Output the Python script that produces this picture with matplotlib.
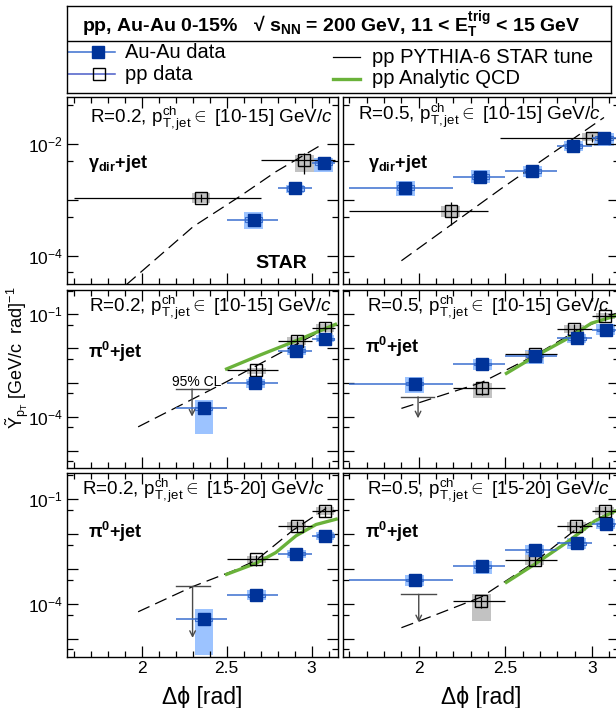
import numpy as np
import matplotlib
matplotlib.use("Agg")
import matplotlib.pyplot as plt
from matplotlib.patches import Rectangle
from matplotlib.lines import Line2D
from matplotlib.ticker import FixedLocator, FuncFormatter

plt.rcParams['font.family'] = ['Liberation Sans', 'DejaVu Sans']
plt.rcParams['mathtext.fontset'] = 'custom'
plt.rcParams['mathtext.rm'] = 'Liberation Sans'
plt.rcParams['mathtext.it'] = 'Liberation Sans:italic'
plt.rcParams['mathtext.bf'] = 'Liberation Sans:bold'
plt.rcParams['axes.linewidth'] = 1.0

# ---------------- data ----------------
# gamma_dir+jet, R=0.2, pT,jet 10-15
tl_aa_x = [2.659, 2.903, 3.07]
tl_aa_y = [4.4e-4, 1.6e-3, 4.6e-3]
tl_aa_xlo = [2.504, 2.80, 3.0]
tl_aa_xhi = [2.80, 3.0, 3.14]
tl_aa_slo = [3.0e-4, 1.32e-3, 3.2e-3]
tl_aa_shi = [6.0e-4, 1.87e-3, 5.7e-3]
tl_pp_x = [2.35, 2.958]
tl_pp_y = [1.1e-3, 5.1e-3]
tl_pp_xlo = [1.6, 2.7]
tl_pp_xhi = [2.7, 3.14]
tl_pp_elo = [9.0e-4, 2.95e-3]
tl_pp_ehi = [1.3e-3, 6.8e-3]
tl_pp_slo = [8.7e-4, 3.2e-3]
tl_pp_shi = [1.35e-3, 6.3e-3]
tl_py_x = [1.91, 2.303, 2.577, 2.79, 3.042]
tl_py_y = [3.0e-5, 3.3e-4, 1.15e-3, 3.2e-3, 9.1e-3]

# gamma_dir+jet, R=0.5, pT,jet 10-15
tr_aa_x = [1.923, 2.356, 2.656, 2.893, 3.069]
tr_aa_y = [1.66e-3, 2.6e-3, 3.3e-3, 9.3e-3, 1.28e-2]
tr_aa_xlo = [1.6, 2.2, 2.5, 2.8, 3.0]
tr_aa_xhi = [2.2, 2.5, 2.8, 3.0, 3.14]
tr_aa_slo = [1.18e-3, 2.04e-3, 2.6e-3, 7.4e-3, 9.3e-3]
tr_aa_shi = [2.2e-3, 3.4e-3, 4.1e-3, 1.14e-2, 1.58e-2]
tr_pp_x = [2.185, 2.997]
tr_pp_y = [6.4e-4, 1.28e-2]
tr_pp_xlo = [1.6, 2.467]
tr_pp_xhi = [2.4, 3.14]
tr_pp_elo = [3.6e-4, 1.1e-2]
tr_pp_ehi = [9.1e-4, 1.5e-2]
tr_pp_slo = [5.0e-4, 1.15e-2]
tr_pp_shi = [7.9e-4, 1.6e-2]
tr_py_x = [1.90, 2.477, 3.069]
tr_py_y = [8.1e-5, 1.6e-3, 3.0e-2]

# pi0+jet, R=0.2, pT,jet 10-15
ml_aa_x = [2.367, 2.668, 2.909, 3.079]
ml_aa_y = [1.75e-4, 9.9e-4, 8.6e-3, 1.89e-2]
ml_aa_xlo = [2.2, 2.5, 2.8, 3.0]
ml_aa_xhi = [2.5, 2.8, 3.0, 3.14]
ml_aa_slo = [3.1e-5, 7.1e-4, 6.5e-3, 1.5e-2]
ml_aa_shi = [3.1e-4, 1.3e-3, 1.17e-2, 2.45e-2]
ml_pp_x = [2.674, 2.913, 3.079]
ml_pp_y = [2.3e-3, 1.68e-2, 4.1e-2]
ml_pp_xlo = [2.5, 2.8, 3.0]
ml_pp_xhi = [2.8, 3.0, 3.14]
ml_pp_elo = [1.5e-3, 1.1e-2, 3.0e-2]
ml_pp_ehi = [3.2e-3, 2.5e-2, 5.9e-2]
ml_pp_slo = [1.74e-3, 1.26e-2, 3.1e-2]
ml_pp_shi = [2.7e-3, 2.2e-2, 5.1e-2]
ml_ul = [2.297, 2.2, 2.395, 6.5e-4, 1.0e-4]   # x, xlo, xhi, limit, arrow tip
ml_py_x = [1.98, 2.499, 3.085]
ml_py_y = [5.0e-5, 1.05e-3, 3.9e-2]
ml_qcd_x = [2.5, 2.7, 2.9, 3.14]
ml_qcd_y = [2.5e-3, 6.5e-3, 1.62e-2, 5.1e-2]

# pi0+jet, R=0.5, pT,jet 10-15
mr_aa_x = [1.977, 2.367, 2.669, 2.913, 3.079]
mr_aa_y = [9.2e-4, 3.5e-3, 6.0e-3, 2.0e-2, 3.5e-2]
mr_aa_xlo = [1.6, 2.2, 2.5, 2.8, 3.0]
mr_aa_xhi = [2.2, 2.5, 2.8, 3.0, 3.14]
mr_aa_slo = [4.8e-4, 2.3e-3, 3.6e-3, 1.4e-2, 2.5e-2]
mr_aa_shi = [1.48e-3, 4.9e-3, 8.9e-3, 2.6e-2, 5.1e-2]
mr_pp_x = [2.367, 2.669, 2.896, 3.077]
mr_pp_y = [6.7e-4, 6.8e-3, 3.7e-2, 8.9e-2]
mr_pp_xlo = [2.2, 2.5, 2.8, 3.0]
mr_pp_xhi = [2.5, 2.8, 3.0, 3.14]
mr_pp_elo = [4.3e-4, 4.6e-3, 2.6e-2, 6.3e-2]
mr_pp_ehi = [1.05e-3, 8.9e-3, 5.1e-2, 0.12]
mr_pp_slo = [3.5e-4, 4.9e-3, 2.8e-2, 7.1e-2]
mr_pp_shi = [1.0e-3, 8.3e-3, 4.9e-2, 0.107]
mr_ul = [1.996, 1.90, 2.09, 3.8e-4, 8.9e-5]
mr_py_x = [1.90, 2.362, 2.669, 2.90, 3.137]
mr_py_y = [1.74e-4, 1.0e-3, 6.2e-3, 3.1e-2, 0.107]
mr_qcd_x = [2.506, 2.669, 2.862, 2.996, 3.137]
mr_qcd_y = [1.86e-3, 5.8e-3, 2.0e-2, 5.5e-2, 9.1e-2]

# pi0+jet, R=0.2, pT,jet 15-20
bl_aa_x = [2.367, 2.674, 2.909, 3.079]
bl_aa_y = [3.7e-5, 1.8e-4, 2.8e-3, 9.1e-3]
bl_aa_xlo = [2.2, 2.5, 2.8, 3.0]
bl_aa_xhi = [2.5, 2.8, 3.0, 3.14]
bl_aa_slo = [3.5e-6, 1.29e-4, 2.1e-3, 6.8e-3]
bl_aa_shi = [7.2e-5, 2.5e-4, 3.6e-3, 1.17e-2]
bl_pp_x = [2.674, 2.913, 3.079]
bl_pp_y = [1.9e-3, 1.7e-2, 4.6e-2]
bl_pp_xlo = [2.5, 2.8, 3.0]
bl_pp_xhi = [2.8, 3.0, 3.14]
bl_pp_elo = [1.26e-3, 1.17e-2, 3.2e-2]
bl_pp_ehi = [2.6e-3, 2.4e-2, 6.6e-2]
bl_pp_slo = [1.48e-3, 1.3e-2, 3.5e-2]
bl_pp_shi = [2.4e-3, 2.2e-2, 6.2e-2]
bl_ul = [2.30, 2.2, 2.4, 3.2e-4, 1.07e-5]
bl_py_x = [1.98, 2.303, 2.538, 2.674, 2.89, 3.085]
bl_py_y = [6.0e-5, 3.2e-4, 8.9e-4, 1.8e-3, 1.3e-2, 5.5e-2]
bl_qcd_x = [2.50, 2.674, 2.79, 2.909, 3.026, 3.144]
bl_qcd_y = [7.1e-4, 1.48e-3, 3.0e-3, 9.1e-3, 1.9e-2, 2.7e-2]

# pi0+jet, R=0.5, pT,jet 15-20
br_aa_x = [1.977, 2.367, 2.669, 2.913, 3.079]
br_aa_y = [4.9e-4, 1.2e-3, 3.5e-3, 5.5e-3, 1.95e-2]
br_aa_xlo = [1.6, 2.2, 2.5, 2.8, 3.0]
br_aa_xhi = [2.2, 2.5, 2.8, 3.0, 3.14]
br_aa_slo = [3.2e-4, 7.2e-4, 2.6e-3, 3.9e-3, 1.45e-2]
br_aa_shi = [6.8e-4, 1.74e-3, 4.9e-3, 7.6e-3, 2.8e-2]
br_pp_x = [2.362, 2.669, 2.91, 3.074]
br_pp_y = [1.2e-4, 1.8e-3, 1.7e-2, 4.7e-2]
br_pp_xlo = [2.2, 2.5, 2.8, 3.0]
br_pp_xhi = [2.5, 2.8, 3.0, 3.14]
br_pp_elo = [7.8e-5, 1.26e-3, 1.17e-2, 3.2e-2]
br_pp_ehi = [1.6e-4, 2.5e-3, 2.4e-2, 6.6e-2]
br_pp_slo = [3.3e-5, 1.3e-3, 1.26e-2, 3.5e-2]
br_pp_shi = [1.95e-4, 2.6e-3, 2.3e-2, 6.2e-2]
br_ul = [2.0, 1.90, 2.10, 1.9e-4, 3.0e-5]
br_py_x = [1.90, 2.092, 2.362, 2.669, 2.90, 3.137]
br_py_y = [2.1e-5, 4.8e-5, 1.6e-4, 1.6e-3, 1.3e-2, 5.0e-2]
br_qcd_x = [2.506, 2.669, 2.862, 3.016, 3.137]
br_qcd_y = [4.2e-4, 1.38e-3, 6.2e-3, 2.4e-2, 4.7e-2]

panel_labels = [r"R=0.2, p$^{\rm ch}_{\rm T,jet}$$\in$ [10-15] GeV/$c$",
                r"R=0.5, p$^{\rm ch}_{\rm T,jet}$$\in$ [10-15] GeV/$c$",
                r"R=0.2, p$^{\rm ch}_{\rm T,jet}$$\in$ [10-15] GeV/$c$",
                r"R=0.5, p$^{\rm ch}_{\rm T,jet}$$\in$ [10-15] GeV/$c$",
                r"R=0.2, p$^{\rm ch}_{\rm T,jet}$$\in$ [15-20] GeV/$c$",
                r"R=0.5, p$^{\rm ch}_{\rm T,jet}$$\in$ [15-20] GeV/$c$"]
gamma_label = r"$\mathbf{\gamma_{dir}}$+jet"
pi0_label = r"$\mathbf{\pi^{0}}$+jet"

# ---------------- style ----------------
W, H = 616, 708
AA_COL = '#003399'
AA_BAR = '#3a6fd0'
AA_BOX = '#9cc3ff'
PP_BOX = '#c2c2c2'
QCD_COL = '#6ab23a'
UL_COL = '#4a4a4a'


def fx(px):
    return px / W


def fy(py):
    return 1 - py / H


fig = plt.figure(figsize=(W / 100, H / 100), dpi=100)

# axes rectangles in pixels: left, top, right, bottom
col_x = [(66.7, 338.0), (342.5, 618.9)]
row_y = [(97.3, 284.0), (290.0, 468.0), (472.7, 656.7)]
ylims = [(3.1e-5, 6.9e-2), (3.1e-6, 0.52), (3.1e-6, 0.58)]
ylab = [{-2, -4}, {-1, -4}, {-1, -4}]

panels = [
    dict(aa=(tl_aa_x, tl_aa_y, tl_aa_xlo, tl_aa_xhi, tl_aa_slo, tl_aa_shi),
         pp=(tl_pp_x, tl_pp_y, tl_pp_xlo, tl_pp_xhi, tl_pp_elo, tl_pp_ehi, tl_pp_slo, tl_pp_shi),
         py=(tl_py_x, tl_py_y), qcd=None, ul=None),
    dict(aa=(tr_aa_x, tr_aa_y, tr_aa_xlo, tr_aa_xhi, tr_aa_slo, tr_aa_shi),
         pp=(tr_pp_x, tr_pp_y, tr_pp_xlo, tr_pp_xhi, tr_pp_elo, tr_pp_ehi, tr_pp_slo, tr_pp_shi),
         py=(tr_py_x, tr_py_y), qcd=None, ul=None),
    dict(aa=(ml_aa_x, ml_aa_y, ml_aa_xlo, ml_aa_xhi, ml_aa_slo, ml_aa_shi),
         pp=(ml_pp_x, ml_pp_y, ml_pp_xlo, ml_pp_xhi, ml_pp_elo, ml_pp_ehi, ml_pp_slo, ml_pp_shi),
         py=(ml_py_x, ml_py_y), qcd=(ml_qcd_x, ml_qcd_y), ul=ml_ul),
    dict(aa=(mr_aa_x, mr_aa_y, mr_aa_xlo, mr_aa_xhi, mr_aa_slo, mr_aa_shi),
         pp=(mr_pp_x, mr_pp_y, mr_pp_xlo, mr_pp_xhi, mr_pp_elo, mr_pp_ehi, mr_pp_slo, mr_pp_shi),
         py=(mr_py_x, mr_py_y), qcd=(mr_qcd_x, mr_qcd_y), ul=mr_ul),
    dict(aa=(bl_aa_x, bl_aa_y, bl_aa_xlo, bl_aa_xhi, bl_aa_slo, bl_aa_shi),
         pp=(bl_pp_x, bl_pp_y, bl_pp_xlo, bl_pp_xhi, bl_pp_elo, bl_pp_ehi, bl_pp_slo, bl_pp_shi),
         py=(bl_py_x, bl_py_y), qcd=(bl_qcd_x, bl_qcd_y), ul=bl_ul),
    dict(aa=(br_aa_x, br_aa_y, br_aa_xlo, br_aa_xhi, br_aa_slo, br_aa_shi),
         pp=(br_pp_x, br_pp_y, br_pp_xlo, br_pp_xhi, br_pp_elo, br_pp_ehi, br_pp_slo, br_pp_shi),
         py=(br_py_x, br_py_y), qcd=(br_qcd_x, br_qcd_y), ul=br_ul),
]

box_w = 0.11

for i, p in enumerate(panels):
    r, c = divmod(i, 2)
    x0, x1 = col_x[c]
    y0, y1 = row_y[r]
    ax = fig.add_axes([fx(x0), fy(y1), (x1 - x0) / W, (y1 - y0) / H])
    ax.set_yscale('log')
    ax.set_xlim(1.56, 3.155)
    ax.set_ylim(*ylims[r])

    # ticks
    ax.xaxis.set_major_locator(FixedLocator([2.0, 2.5, 3.0]))
    ax.xaxis.set_minor_locator(FixedLocator(np.arange(1.6, 3.16, 0.1)))
    dec = [10.0 ** k for k in range(-7, 1)]
    ax.yaxis.set_major_locator(FixedLocator(dec))
    ax.yaxis.set_minor_locator(FixedLocator([5 * d for d in dec]))
    labs = ylab[r]
    ax.yaxis.set_major_formatter(FuncFormatter(
        lambda v, pos, labs=labs: (r"$10^{%d}$" % round(np.log10(v))) if round(np.log10(v)) in labs else ""))
    ax.tick_params(which='both', direction='in', top=True, right=True, labelsize=12.5)
    ax.tick_params(which='major', length=8, width=0.9)
    ax.tick_params(which='minor', length=4, width=0.9)
    ax.tick_params(axis='y', pad=3)
    ax.tick_params(axis='x', pad=3)
    if r < 2:
        ax.set_xticklabels([])
    else:
        ax.set_xticklabels(['2', '2.5', '3'])
        ax.set_xlabel("Δϕ [rad]", fontsize=16.5, labelpad=7)
    if c == 1:
        ax.set_yticklabels([])

    # systematic boxes
    ax_x, ax_y, ax_lo, ax_hi, ax_slo, ax_shi = p['aa']
    for xx, lo, hi in zip(ax_x, ax_slo, ax_shi):
        ax.add_patch(Rectangle((xx - box_w / 2, lo), box_w, hi - lo, facecolor=AA_BOX,
                               edgecolor='none', zorder=1))
    pxx, pyy, plo, phi, pelo, pehi, pslo, pshi = p['pp']
    for xx, lo, hi in zip(pxx, pslo, pshi):
        ax.add_patch(Rectangle((xx - box_w / 2, lo), box_w, hi - lo, facecolor=PP_BOX,
                               edgecolor='none', zorder=1))

    # models
    ax.plot(p['py'][0], p['py'][1], color='black', lw=0.9, dashes=(10, 5), zorder=2)
    if p['qcd'] is not None:
        ax.plot(p['qcd'][0], p['qcd'][1], color=QCD_COL, lw=2.4, zorder=2.5)

    # upper limit
    if p['ul'] is not None:
        ux, ulo, uhi, uval, utip = p['ul']
        ax.plot([ulo, uhi], [uval, uval], color=UL_COL, lw=1.0, zorder=3)
        ax.annotate('', xy=(ux, utip), xytext=(ux, uval),
                    arrowprops=dict(arrowstyle='->', color=UL_COL, lw=1.0,
                                    shrinkA=0, shrinkB=0), zorder=3)

    # pp data
    ax.hlines(pyy, plo, phi, color='black', lw=0.9, zorder=3)
    ax.vlines(pxx, pelo, pehi, color='black', lw=0.9, zorder=3)
    ax.plot(pxx, pyy, 's', ms=8.5, mfc='none', mec='black', mew=1.0, zorder=4)

    # Au-Au data
    ax.hlines(ax_y, ax_lo, ax_hi, color=AA_BAR, lw=1.1, zorder=3)
    for xx, yy in zip(ax_x, ax_y):
        ax.add_patch(Rectangle((xx - 0.05, yy / 1.1), 0.1, yy * 1.1 - yy / 1.1, facecolor='none',
                               edgecolor=AA_BAR, lw=0.8, zorder=3))
    ax.plot(ax_x, ax_y, 's', ms=9, mfc=AA_COL, mec=AA_COL, zorder=5)

# panel texts (pixel positions)
lab_pos = [(90, 123), (358, 120), (89, 312), (367, 312), (82, 495), (367, 495)]
for (tx, ty), s in zip(lab_pos, panel_labels):
    fig.text(fx(tx), fy(ty), s, fontsize=13.6, va='baseline', ha='left')
proc_pos = [(88, 163, gamma_label), (368, 163, gamma_label), (88, 352, pi0_label),
            (365, 347, pi0_label), (88, 532, pi0_label), (365, 532, pi0_label)]
for tx, ty, s in proc_pos:
    fig.text(fx(tx), fy(ty), s, fontsize=13, fontweight='bold', va='center', ha='left')
fig.text(fx(281), fy(268), "STAR", fontsize=14, fontweight='bold', va='baseline', ha='center')
fig.text(fx(197), fy(386), "95% CL", fontsize=10, va='baseline', ha='center')
fig.text(fx(17), fy(358), r"$\tilde{\rm Y}_{\rm p_{T}}$ [GeV/c  rad]$^{-1}$", fontsize=13,
         rotation=90, va='center', ha='center')

# legend box
lg = fig.add_axes([fx(67), fy(92.7), (611 - 67) / W, (92.7 - 6) / H])
lg.set_xlim(67, 611)
lg.set_ylim(92.7, 6)
lg.set_xticks([])
lg.set_yticks([])
for s in lg.spines.values():
    s.set_linewidth(1.0)
lg.axhline(40.7, color='black', lw=1.0)
lg.text(82.5, 32.3, r"pp, Au-Au 0-15%   √ $\mathbf{s_{NN}}$ = 200 GeV, 11 < $\mathbf{E_{T}^{trig}}$ < 15 GeV",
        fontsize=14.0, fontweight='bold', va='baseline', ha='left')
lg.add_line(Line2D([68, 115], [52, 52], color=AA_BAR, lw=1.1))
lg.plot([98], [52], 's', ms=9, color=AA_COL)
lg.text(125, 52, "Au-Au data", fontsize=14.5, va='center')
lg.add_line(Line2D([68, 115], [74, 74], color='#4a5cc8', lw=1.1))
lg.plot([99], [74], 's', ms=8, mfc='none', mec='black', mew=1.0)
lg.text(125, 74, "pp data", fontsize=14.5, va='center')
lg.add_line(Line2D([333, 360], [57, 57], color='black', lw=0.9))
lg.text(372, 57, "pp PYTHIA-6 STAR tune", fontsize=14.5, va='center')
lg.add_line(Line2D([333, 360], [79, 79], color=QCD_COL, lw=2.4))
lg.text(372, 79, "pp Analytic QCD", fontsize=14.5, va='center')

fig.savefig("out.png", dpi=100)
